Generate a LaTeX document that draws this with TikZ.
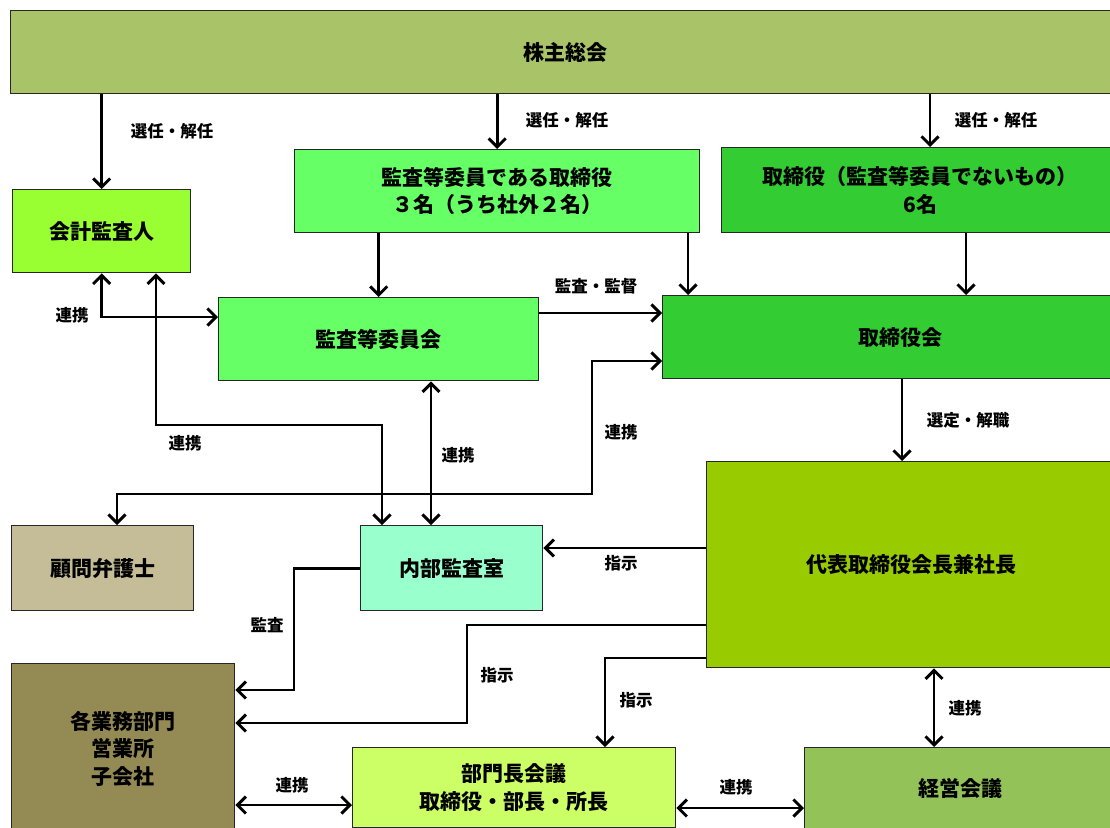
\documentclass[tikz,border=0pt]{standalone}
\usepackage{fontspec}
\setmainfont{Noto Sans CJK JP}
\usetikzlibrary{arrows.meta}
\definecolor{cKabu}{RGB}{169,196,104}
\definecolor{cKaikei}{RGB}{153,255,51}
\definecolor{cKansa}{RGB}{102,255,102}
\definecolor{cTori}{RGB}{51,204,51}
\definecolor{cKomon}{RGB}{196,189,151}
\definecolor{cNaibu}{RGB}{153,255,204}
\definecolor{cDaihyo}{RGB}{153,204,0}
\definecolor{cKaku}{RGB}{148,138,84}
\definecolor{cBumon}{RGB}{204,255,102}
\definecolor{cKeiei}{RGB}{146,194,88}
\tikzset{
  box/.style={draw=black!85, line width=1.4pt, anchor=north west, inner sep=0pt,
    align=center, text=black, font=\fontsize{21}{27.5}\selectfont\bfseries},
  lab/.style={inner sep=0pt, text=black, font=\fontsize{16.5}{18}\selectfont\bfseries},
  arr/.style={line width=2.9pt, -{Straight Barb[length=8.5pt,width=17pt]}},
  darr/.style={line width=2.9pt, {Straight Barb[length=8.5pt,width=17pt]}-{Straight Barb[length=8.5pt,width=17pt]}}
}
\begin{document}
\begin{tikzpicture}[x=1pt,y=-1pt]
\useasboundingbox (0,0) rectangle (1110,827);
\clip (0,0) rectangle (1110,827);
\fill[white] (0,0) rectangle (1110,827);
% boxes
\node[box, fill=cKabu, minimum width=1110pt, minimum height=83pt] (kabu) at (10,10) {株主総会};
\node[box, fill=cKaikei, minimum width=178pt, minimum height=83pt] (kaikei) at (12,189) {会計監査人};
\node[box, fill=cKansa, minimum width=405pt, minimum height=83pt] (kantori) at (294,149) {監査等委員である取締役\\３名（うち社外２名）};
\node[box, fill=cTori, minimum width=397pt, minimum height=85pt] (toriother) at (721,147) {取締役（監査等委員でないもの）\\6名};
\node[box, fill=cKansa, minimum width=320pt, minimum height=83pt] (kansakai) at (218,297) {監査等委員会};
\node[box, fill=cTori, minimum width=476pt, minimum height=83pt] (torikai) at (662,295) {取締役会};
\node[box, fill=cKomon, minimum width=182pt, minimum height=85pt] (komon) at (11,525) {顧問弁護士};
\node[box, fill=cNaibu, minimum width=182pt, minimum height=85pt] (naibu) at (360,525) {内部監査室};
\node[box, fill=cDaihyo, minimum width=410pt, minimum height=206pt] (daihyo) at (706,461) {代表取締役会長兼社長};
\node[box, fill=cKaku, minimum width=223pt, minimum height=170pt] (kaku) at (11,663) {各業務部門\\営業所\\子会社};
\node[box, fill=cBumon, minimum width=323pt, minimum height=80pt] (bumon) at (352,747) {部門長会議\\取締役・部長・所長};
\node[box, fill=cKeiei, minimum width=312pt, minimum height=82pt] (keiei) at (804,747) {経営会議};
% connectors
\draw[arr] (kabu.south -| kaikei.north) -- (kaikei.north);
\draw[arr] (kabu.south -| kantori.north) -- (kantori.north);
\draw[arr] (kabu.south -| 930,0) -- (toriother.north -| 930,0);
\draw[arr] (kantori.south -| kansakai.north) -- (kansakai.north);
\draw[arr] (kantori.south -| 688,0) -- (torikai.north -| 688,0);
\draw[arr] (toriother.south -| 966,0) -- (torikai.north -| 966,0);
\draw[arr] (kansakai.east |- 0,313) -- (torikai.west |- 0,313);
\draw[darr] (kaikei.south) |- (kansakai.west |- 0,317);
\draw[darr] (kaikei.south -| 156,0) -- (156,425) -| (naibu.north -| 382,0);
\draw[darr] (kansakai.south -| 431,0) -- (naibu.north -| 431,0);
\draw[darr] (torikai.west |- 0,361) -| (592,494) -| (komon.north -| 117,0);
\draw[arr] (torikai.south -| 902,0) -- (daihyo.north -| 902,0);
\draw[arr] (daihyo.west |- 0,548) -- (naibu.east |- 0,548);
\draw[arr] (daihyo.west |- 0,625) -| (467,723) -- (kaku.east |- 0,723);
\draw[arr] (naibu.west) -| (294,690) -- (kaku.east |- 0,690);
\draw[arr] (daihyo.west |- 0,658) -| (bumon.north -| 605,0);
\draw[darr] (kaku.east |- 0,805) -- (bumon.west |- 0,805);
\draw[darr] (bumon.east |- 0,808) -- (keiei.west |- 0,808);
\draw[darr] (daihyo.south -| 934,0) -- (keiei.north -| 934,0);
% labels
\node[lab] (l1) at (172,131) {選任・解任};
\node[lab] (l2) at (567,120) {選任・解任};
\node[lab] (l3) at (996,120) {選任・解任};
\node[lab] (l4) at (596,286) {監査・監督};
\node[lab] (l5) at (72,315) {連携};
\node[lab] (l6) at (185,443) {連携};
\node[lab] (l7) at (458,455) {連携};
\node[lab] (l8) at (621,432) {連携};
\node[lab] (l9) at (968,420) {選定・解職};
\node[lab] (l10) at (621,563) {指示};
\node[lab] (l11) at (497,675) {指示};
\node[lab] (l12) at (636,700) {指示};
\node[lab] (l13) at (267,625) {監査};
\node[lab] (l14) at (965,708) {連携};
\node[lab] (l15) at (292,785) {連携};
\node[lab] (l16) at (736,787) {連携};
\end{tikzpicture}
\end{document}
